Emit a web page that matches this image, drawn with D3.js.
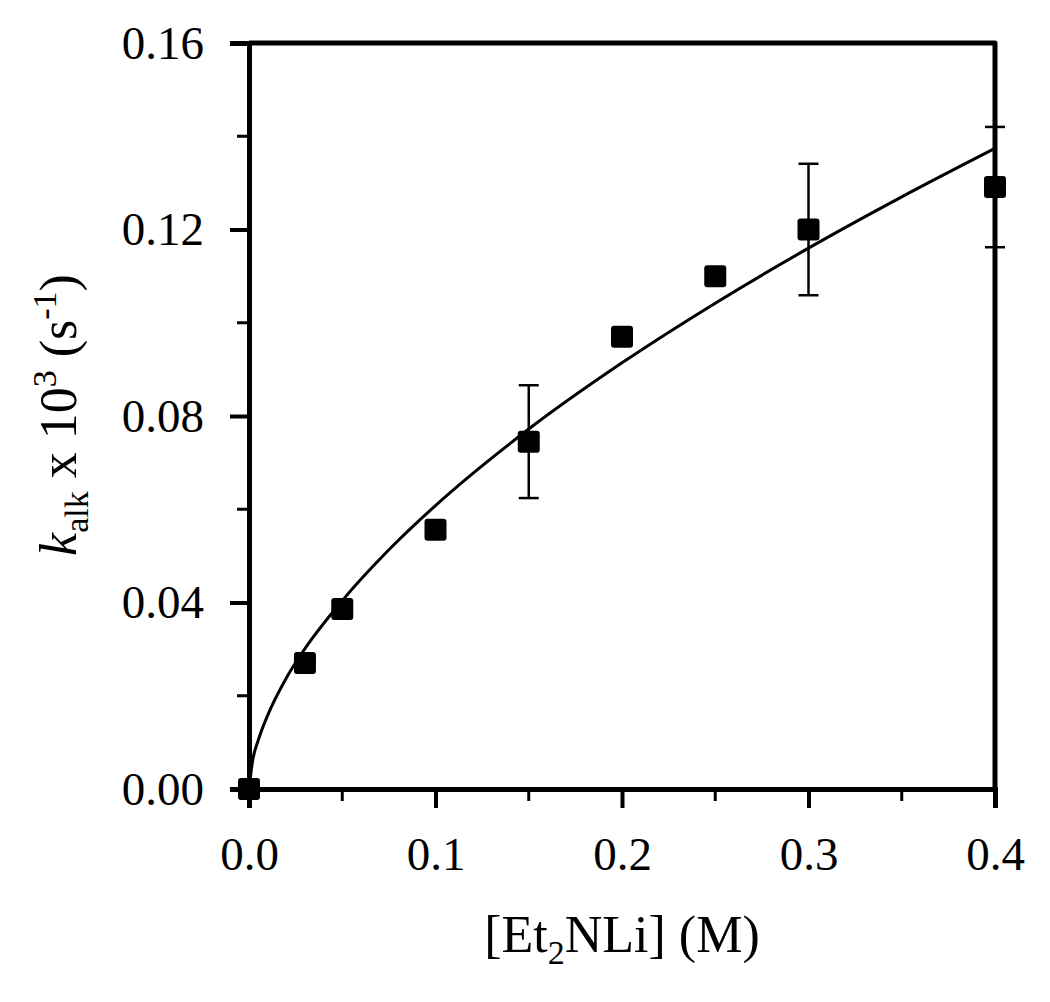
<!DOCTYPE html>
<html>
<head>
<meta charset="utf-8">
<script src="https://cdn.jsdelivr.net/npm/d3@7"></script>
<style>
  body { margin: 0; background: white; }
  text { font-family: "Liberation Serif", "Times New Roman", serif; fill: black; }
</style>
</head>
<body>
<script>
let w = 1050;
let h = 1002;

// measured points: [Et2NLi] (M) vs k_alk x 10^3 (s^-1)
const conc = [0, 0.03, 0.05, 0.1, 0.15, 0.2, 0.25, 0.3, 0.4];
const kalk = [0, 0.0270, 0.0386, 0.0556, 0.0745, 0.0970, 0.1100, 0.1200, 0.1291];
const err = [0, 0, 0, 0, 0.0121, 0, 0, 0.0141, 0.0129];

// fitted curve
const fitX = [0, 0.002, 0.005, 0.01, 0.02, 0.03, 0.05, 0.075, 0.1, 0.15, 0.2, 0.25, 0.3, 0.35, 0.4];
const fitY = [0, 0.0062, 0.0105, 0.0158, 0.0238, 0.0301, 0.0404, 0.0513, 0.0608, 0.0772, 0.0914, 0.1042, 0.1160, 0.1270, 0.1374];

const xTicks = [0, 0.1, 0.2, 0.3, 0.4];
const xMinor = [0.05, 0.15, 0.25, 0.35];
const yTicks = [0, 0.04, 0.08, 0.12, 0.16];
const yMinor = [0.02, 0.06, 0.10, 0.14];

const margin = { left: 249, top: 43, right: 55, bottom: 213 };
const pw = w - margin.left - margin.right;
const ph = h - margin.top - margin.bottom;

const svg = d3.select('body')
  .append('svg')
  .attr('width', w)
  .attr('height', h)
  .style("background-color", "white");

const g = svg.append('g')
  .attr('transform', `translate(${margin.left},${margin.top})`);

const x = d3.scaleLinear().domain([0, 0.4]).range([0, pw]);
const y = d3.scaleLinear().domain([0, 0.16]).range([ph, 0]);

// frame (top + right)
g.append('path')
  .attr('d', `M0,0H${pw}V${ph}`)
  .attr('fill', 'none')
  .attr('stroke', 'black')
  .attr('stroke-width', 5)
  .attr('stroke-linejoin', 'round');

// bottom axis
const xAxis = g.append('g')
  .attr('transform', `translate(0,${ph})`)
  .call(d3.axisBottom(x).tickValues(xTicks).tickSize(19).tickPadding(25).tickFormat(d3.format('.1f')));
xAxis.selectAll('line').attr('stroke-width', 4);
xAxis.select('.domain').attr('stroke-width', 5);
xAxis.selectAll('text').style('font-size', '47px').attr('dy', '0.78em');
xAxis.selectAll('.minor').data(xMinor).enter().append('line')
  .attr('x1', d => x(d)).attr('x2', d => x(d))
  .attr('y1', 0).attr('y2', 12)
  .attr('stroke', 'black').attr('stroke-width', 3);

// left axis
const yAxis = g.append('g')
  .call(d3.axisLeft(y).tickValues(yTicks).tickSize(19).tickPadding(26).tickFormat(d3.format('.2f')));
yAxis.selectAll('line').attr('stroke-width', 4);
yAxis.select('.domain').attr('stroke-width', 5);
yAxis.selectAll('text').style('font-size', '47px');
yAxis.selectAll('.minor').data(yMinor).enter().append('line')
  .attr('x1', 0).attr('x2', -12)
  .attr('y1', d => y(d)).attr('y2', d => y(d))
  .attr('stroke', 'black').attr('stroke-width', 3);

// fit line
const line = d3.line()
  .x((d, i) => x(fitX[i]))
  .y(d => y(d))
  .curve(d3.curveMonotoneX);
g.append('path')
  .datum(fitY)
  .attr('d', line)
  .attr('fill', 'none')
  .attr('stroke', 'black')
  .attr('stroke-width', 3);

// error bars
const pts = conc.map((c, i) => ({ c: c, k: kalk[i], e: err[i] }));
const eb = g.append('g').selectAll('g')
  .data(pts.filter(d => d.e > 0))
  .enter().append('g')
  .attr('stroke', 'black').attr('stroke-width', 2.5);
eb.append('line')
  .attr('x1', d => x(d.c)).attr('x2', d => x(d.c))
  .attr('y1', d => y(d.k + d.e)).attr('y2', d => y(d.k - d.e));
eb.append('line')
  .attr('x1', d => x(d.c) - 10).attr('x2', d => x(d.c) + 10)
  .attr('y1', d => y(d.k + d.e)).attr('y2', d => y(d.k + d.e));
eb.append('line')
  .attr('x1', d => x(d.c) - 10).attr('x2', d => x(d.c) + 10)
  .attr('y1', d => y(d.k - d.e)).attr('y2', d => y(d.k - d.e));

// markers
const sq = 22;
g.append('g').selectAll('rect')
  .data(pts)
  .enter().append('rect')
  .attr('x', d => x(d.c) - sq / 2)
  .attr('y', d => y(d.k) - sq / 2)
  .attr('width', sq).attr('height', sq)
  .attr('rx', 3)
  .attr('fill', 'black');

// axis titles
const xt = svg.append('text')
  .attr('x', margin.left + pw / 2)
  .attr('y', 952)
  .attr('text-anchor', 'middle')
  .style('font-size', '52px');
xt.append('tspan').text('[Et');
xt.append('tspan').text('2').attr('dy', 12).style('font-size', '34px');
xt.append('tspan').text('NLi] (M)').attr('dy', -12);

const yt = svg.append('text')
  .attr('transform', 'translate(76,415) rotate(-90)')
  .attr('text-anchor', 'middle')
  .style('font-size', '52px');
yt.append('tspan').text('k').style('font-style', 'italic');
yt.append('tspan').text('alk').attr('dy', 12).style('font-size', '34px');
yt.append('tspan').text(' x 10').attr('dy', -12);
yt.append('tspan').text('3').attr('dy', -20).style('font-size', '34px');
yt.append('tspan').text(' (s').attr('dy', 20);
yt.append('tspan').text('-1').attr('dy', -20).style('font-size', '34px');
yt.append('tspan').text(')').attr('dy', 20);
</script>
</body>
</html>
